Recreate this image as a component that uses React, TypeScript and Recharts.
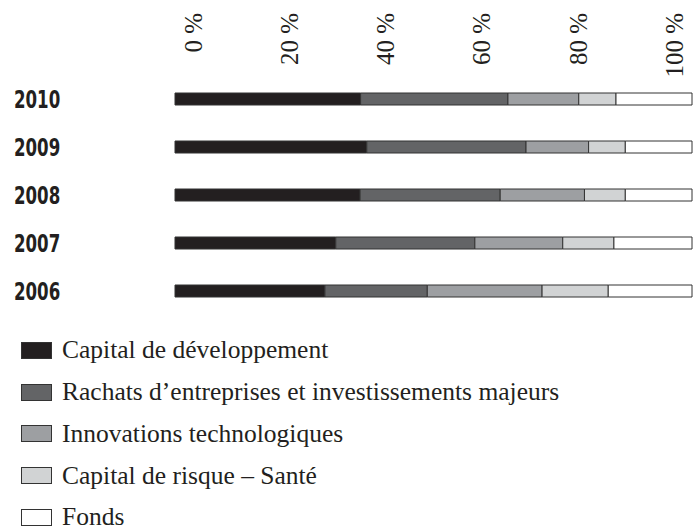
import React from 'react';
import { BarChart, Bar, XAxis, YAxis } from 'recharts';

const years = ['2010', '2009', '2008', '2007', '2006'];
const capitalDev = [35.9, 37.1, 35.8, 31.1, 29.0];
const rachats = [28.5, 30.8, 27.1, 26.9, 19.8];
const innovations = [13.7, 12.1, 16.3, 17.0, 22.2];
const risque = [7.2, 7.1, 7.9, 9.9, 12.8];
const fonds = [14.7, 12.9, 12.9, 15.1, 16.2];
const tickValues = [0, 20, 40, 60, 80, 100];
const labelDomain = [-3.74, 103.74];

const seriesNames = [
  'Capital de développement',
  'Rachats d’entreprises et investissements majeurs',
  'Innovations technologiques',
  'Capital de risque – Santé',
  'Fonds',
];
const seriesKeys = ['capitalDev', 'rachats', 'innovations', 'risque', 'fonds'];
const seriesColors = ['#231f20', '#636466', '#9d9fa2', '#d1d3d4', '#ffffff'];

const data = years.map((year, i) => ({
  year,
  capitalDev: capitalDev[i],
  rachats: rachats[i],
  innovations: innovations[i],
  risque: risque[i],
  fonds: fonds[i],
}));

const SERIF = "'Liberation Serif', 'Times New Roman', serif";
const CONDENSED = "'DejaVu Sans Condensed', 'DejaVu Sans', sans-serif";

const TopTick = (props: any) => {
  const { x, payload } = props;
  return (
    <text
      x={0}
      y={0}
      transform={`translate(${x},13) rotate(-90)`}
      textAnchor="end"
      dy="0.35em"
      fontFamily={SERIF}
      fontSize={25}
      fill="#231f20"
    >
      {`${payload.value}\u00a0%`}
    </text>
  );
};

const YearTick = (props: any) => {
  const { y, payload } = props;
  return (
    <text
      x={0}
      y={0}
      transform={`translate(14,${y}) scale(0.77,1)`}
      dy="0.36em"
      textAnchor="start"
      fontFamily={CONDENSED}
      fontWeight="bold"
      fontSize={24}
      fill="#231f20"
    >
      {payload.value}
    </text>
  );
};

const LegendBlock = () => (
  <div style={{ position: 'absolute', left: 0, top: 329.5, display: 'flex', flexDirection: 'column' }}>
    {seriesNames.map((name, i) => (
      <div
        key={name}
        style={{ height: 41.8, display: 'flex', alignItems: 'center' }}
      >
        <div
          style={{
            width: 29,
            height: 15,
            marginLeft: 21,
            background: seriesColors[i],
            border: '1px solid #333',
          }}
        />
        <span
          style={{
            marginLeft: 10,
            fontFamily: SERIF,
            fontSize: 25.5,
            color: '#231f20',
            whiteSpace: 'nowrap',
            lineHeight: 0.8,
          }}
        >
          {name}
        </span>
      </div>
    ))}
  </div>
);

export default function App() {
  return (
    <div style={{ position: 'absolute', left: 0, top: 0, width: 694, height: 532, background: '#fff', overflow: 'hidden' }}>
      <BarChart
        width={694}
        height={532}
        data={data}
        layout="vertical"
        margin={{ top: 0, right: 2, bottom: 217, left: 0 }}
        barSize={12}
      >
        <XAxis xAxisId="main" type="number" domain={[0, 100]} hide />
        <XAxis
          xAxisId="lbl"
          type="number"
          orientation="top"
          domain={labelDomain}
          allowDataOverflow
          ticks={tickValues}
          height={75}
          axisLine={false}
          tickLine={false}
          tick={<TopTick />}
          interval={0}
        />
        <YAxis
          type="category"
          dataKey="year"
          width={175}
          axisLine={false}
          tickLine={false}
          tick={<YearTick />}
          interval={0}
        />
        {seriesKeys.map((k, i) => (
          <Bar
            key={k}
            xAxisId="main"
            dataKey={k}
            name={seriesNames[i]}
            stackId="a"
            fill={seriesColors[i]}
            stroke="#333"
            strokeWidth={1}
            isAnimationActive={false}
          />
        ))}
      </BarChart>
      <LegendBlock />
    </div>
  );
}
